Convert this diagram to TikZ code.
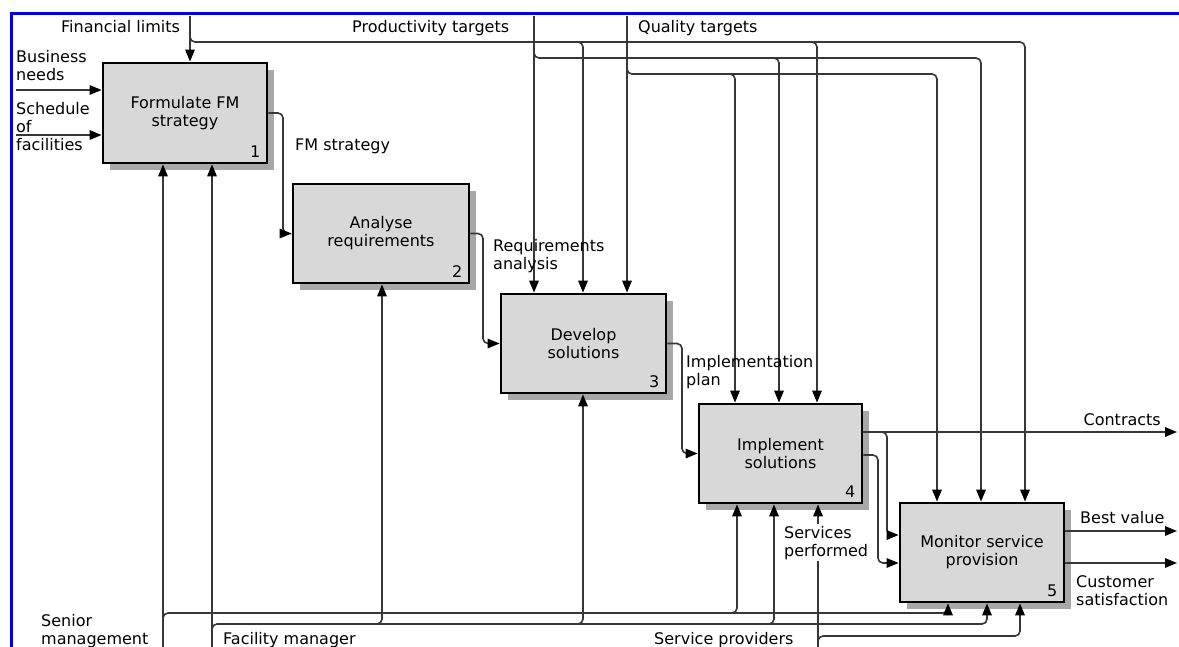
\documentclass[tikz,border=0pt]{standalone}
\usepackage{fontspec}
\setmainfont{DejaVu Sans}
\usetikzlibrary{arrows.meta,shadows,calc}
\definecolor{frameblue}{RGB}{0,0,235}
\definecolor{boxfill}{RGB}{216,216,216}
\definecolor{shadowgray}{RGB}{168,168,168}
\definecolor{wirecol}{RGB}{55,55,55}
\begin{document}
\begin{tikzpicture}[x=1pt,y=-1pt,
  font=\fontsize{16}{18}\selectfont,
  proc/.style={draw=black, line width=2.8pt, fill=boxfill, minimum height=99pt,
    inner sep=0pt, align=center,
    drop shadow={shadow xshift=7pt, shadow yshift=-7pt, fill=shadowgray, opacity=1}},
  num/.style={anchor=base east, inner sep=0pt},
  lbl/.style={anchor=base west, inner sep=0pt, align=left},
  wire/.style={draw=wirecol, line width=1.6pt, rounded corners=5pt},
  arr/.style={wire, -{Triangle[length=12pt,width=9.5pt,color=black]}},
  frame/.style={draw=frameblue, line width=3.5pt},
]
\useasboundingbox (0,0) rectangle (1179,647);
\fill[white] (0,0) rectangle (1179,647);

% frame
\coordinate (frTR) at (1179,13.5);
\coordinate (frTL) at (11.5,13.5);
\coordinate (frBL) at (11.5,647);
\draw[frame] (frTR) -- (frTL) -- (frBL);

% boxes
\node[proc, minimum width=164pt, minimum height=100pt] (b1) at (185,113) {Formulate FM\\strategy};
\node[proc, minimum width=176pt] (b2) at (381,233.5) {Analyse\\requirements};
\node[proc, minimum width=165pt] (b3) at (583.5,343.5) {Develop\\solutions};
\node[proc, minimum width=163pt] (b4) at (780.5,453.5) {Implement\\solutions};
\node[proc, minimum width=164pt] (b5) at (982,552.5) {Monitor service\\provision};
\node[num] (n1) at ([xshift=-8pt,yshift=7pt]b1.south east) {1};
\node[num] (n2) at ([xshift=-8pt,yshift=7pt]b2.south east) {2};
\node[num] (n3) at ([xshift=-8pt,yshift=7pt]b3.south east) {3};
\node[num] (n4) at ([xshift=-8pt,yshift=7pt]b4.south east) {4};
\node[num] (n5) at ([xshift=-8pt,yshift=7pt]b5.south east) {5};

% inputs
\coordinate (bn) at (16,90);
\coordinate (sf) at (16,135);
\draw[arr] (bn) -- (bn -| b1.west);
\draw[arr] (sf) -- (sf -| b1.west);

% outputs between boxes
\coordinate (c12) at (283,0);
\coordinate (c23) at (483,0);
\coordinate (c34) at (682,0);
\draw[arr] (b1.east) -| (c12 |- b2.west) -- (b2.west);
\draw[arr] (b2.east) -| (c23 |- b3.west) -- (b3.west);
\draw[arr] (b3.east) -| (c34 |- b4.west) -- (b4.west);

\coordinate (o4a) at ([yshift=21.5pt]b4.east);
\coordinate (o4b) at ([yshift=-1.5pt]b4.east);
\coordinate (i5a) at ([yshift=17.5pt]b5.west);
\coordinate (i5b) at ([yshift=-10.5pt]b5.west);
\coordinate (o5a) at ([yshift=21.5pt]b5.east);
\coordinate (o5b) at ([yshift=-10.5pt]b5.east);
\coordinate (rend) at (1177,0);
\coordinate (c45a) at (887,432);
\coordinate (c45b) at (878,0);
\draw[arr] (o4a) -- (o4a -| rend);
\draw[arr] ($(c45a)+(-6,0)$) -| (c45a |- i5a) -- (i5a);
\draw[arr] (o4b) -| (c45b |- i5b) -- (i5b);
\draw[arr] (o5a) -- (o5a -| rend);
\draw[arr] (o5b) -- (o5b -| rend);

% controls (top)
\coordinate (fl) at (190,16);
\coordinate (fl1) at (190,42);
\coordinate (fl3) at (583,42);
\coordinate (fl4) at (817,42);
\coordinate (fl5) at (1025,42);
\draw[arr] (fl) -- (fl |- b1.north);
\draw[arr] ($(fl1)+(0,-6)$) |- (fl5) -- (fl5 |- b5.north);
\draw[arr] ($(fl3)+(-6,0)$) -| (fl3 |- b3.north);
\draw[arr] ($(fl4)+(-6,0)$) -| (fl4 |- b4.north);

\coordinate (pt) at (534,16);
\coordinate (pt1) at (534,58);
\coordinate (pt4) at (779,58);
\coordinate (pt5) at (981,58);
\draw[arr] (pt) -- (pt |- b3.north);
\draw[arr] ($(pt1)+(0,-6)$) |- (pt5) -- (pt5 |- b5.north);
\draw[arr] ($(pt4)+(-6,0)$) -| (pt4 |- b4.north);

\coordinate (qt) at (627,16);
\coordinate (qt1) at (627,74);
\coordinate (qt4) at (735,74);
\coordinate (qt5) at (937,74);
\draw[arr] (qt) -- (qt |- b3.north);
\draw[arr] ($(qt1)+(0,-6)$) |- (qt5) -- (qt5 |- b5.north);
\draw[arr] ($(qt4)+(-6,0)$) -| (qt4 |- b4.north);

% mechanisms (bottom)
\coordinate (sm) at (163,647);
\coordinate (sm1) at (163,613);
\coordinate (sm4) at (737,613);
\coordinate (sm5) at (948,613);
\draw[arr] (sm) -- (sm |- b1.south);
\draw[arr] ($(sm1)+(0,6)$) |- (sm5) -- (sm5 |- b5.south);
\draw[arr] ($(sm4)+(-6,0)$) -| (sm4 |- b4.south);

\coordinate (fm) at (212,647);
\coordinate (fm1) at (212,624);
\coordinate (fm2) at (382,624);
\coordinate (fm3) at (583,624);
\coordinate (fm4) at (774,624);
\coordinate (fm5) at (987,624);
\draw[arr] (fm) -- (fm |- b1.south);
\draw[arr] ($(fm1)+(0,6)$) |- (fm5) -- (fm5 |- b5.south);
\draw[arr] ($(fm2)+(-6,0)$) -| (fm2 |- b2.south);
\draw[arr] ($(fm3)+(-6,0)$) -| (fm3 |- b3.south);
\draw[arr] ($(fm4)+(-6,0)$) -| (fm4 |- b4.south);

\coordinate (sp) at (818,647);
\coordinate (sp1) at (818,636);
\coordinate (sp5) at (1020,636);
\draw[arr] (sp) -- (sp |- b4.south);
\draw[arr] ($(sp1)+(0,6)$) |- (sp5) -- (sp5 |- b5.south);

% labels (base = baseline of last line)
\node[lbl] (tFin) at (61,33) {Financial limits};
\node[lbl] (tProd) at (352,33) {Productivity targets};
\node[lbl] (tQual) at (638,33) {Quality targets};
\node[lbl] (tBus) at (16,81) {Business\\needs};
\node[lbl] (tSch) at (16,151) {Schedule\\of\\facilities};
\node[lbl] (tFMs) at (295,151) {FM strategy};
\node[lbl] (tReq) at (493,270) {Requirements\\analysis};
\node[lbl] (tImp) at (686,385) {Implementation\\plan};
\node[anchor=base east, inner sep=0pt] (tCon) at (1161,425) {Contracts};
\node[lbl] (tBest) at (1080,523) {Best value};
\node[lbl] (tCust) at (1076,605) {Customer\\satisfaction};
\node[lbl, fill=white, inner sep=2pt] (tSrv) at (782,556) {Services\\performed};
\node[lbl] (tSen) at (41,644) {Senior\\management};
\node[lbl] (tFac) at (223,644) {Facility manager};
\node[lbl] (tSP) at (654,644) {Service providers};
\end{tikzpicture}
\end{document}
